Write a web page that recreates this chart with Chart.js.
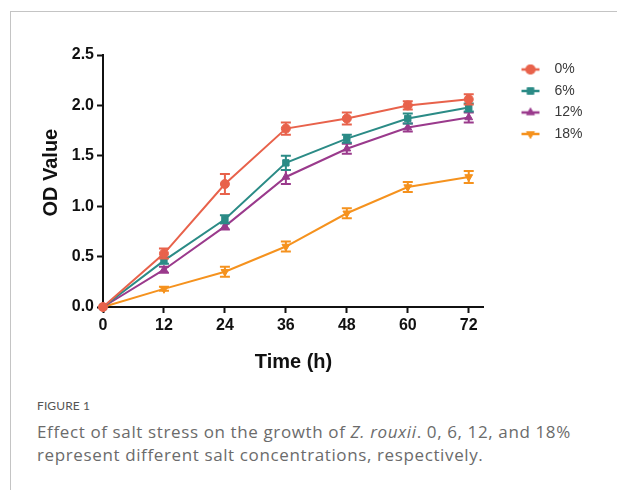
<!DOCTYPE html>
<html>
<head>
<meta charset="utf-8">
<script src="https://cdn.jsdelivr.net/npm/chart.js@4"></script>
<style>
  html, body { margin: 0; padding: 0; background: #fff; }
  body { width: 617px; height: 490px; position: relative; overflow: hidden; }
  #frame { position: absolute; left: 10px; top: 11px; width: 640px; height: 520px;
           border-left: 1px solid #c4c4c4; border-top: 1px solid #c4c4c4; }
  #c { position: absolute; left: 0; top: 0; }
  #figlabel { position: absolute; left: 37px; top: 398px; font-family: Lato, "Open Sans", sans-serif;
              font-size: 12px; color: #555; letter-spacing: 0.1px; }
  #caption { position: absolute; left: 37px; top: 420px; width: 562px; font-family: "Open Sans", Lato, sans-serif;
             font-size: 17px; line-height: 23px; color: #6b6b6b; letter-spacing: 0.62px; }
</style>
</head>
<body>
<div id="frame"></div>
<canvas id="c" width="617" height="390"></canvas>
<div id="figlabel">FIGURE 1</div>
<div id="caption">Effect of salt stress on the growth of <i>Z. rouxii</i>. 0, 6, 12, and 18% represent different salt concentrations, respectively.</div>
<script>
// ---- data ----
const timeH = [0, 12, 24, 36, 48, 60, 72];
const xTicks = [0, 12, 24, 36, 48, 60, 72];
const yTicks = [0, 0.5, 1.0, 1.5, 2.0, 2.5];
const seriesNames = ['0%', '6%', '12%', '18%'];
const od0  = [0, 0.53, 1.22, 1.77, 1.87, 2.00, 2.06];
const err0 = [0, 0.05, 0.10, 0.06, 0.06, 0.04, 0.05];
const od6  = [0, 0.46, 0.87, 1.43, 1.67, 1.87, 1.98];
const err6 = [0, 0.03, 0.04, 0.07, 0.04, 0.05, 0.04];
const od12  = [0, 0.37, 0.80, 1.29, 1.57, 1.78, 1.88];
const err12 = [0, 0.03, 0.03, 0.07, 0.05, 0.04, 0.05];
const od18  = [0, 0.18, 0.35, 0.60, 0.93, 1.19, 1.29];
const err18 = [0, 0.02, 0.05, 0.05, 0.05, 0.05, 0.06];

const colors = ['#E8624B', '#2B8B86', '#9A3A8C', '#F5921E'];
const shapes = ['circle', 'rect', 'triangle', 'triangle'];
const rotations = [0, 0, 0, 180];
const values = [od0, od6, od12, od18];
const errors = [err0, err6, err12, err18];

const FONT = '"Liberation Sans", Arial, sans-serif';

// legend icons: line with marker, with transparent space on the left
function legendIcon(color, shape, rot) {
  const cv = document.createElement('canvas');
  cv.width = 56; cv.height = 14;
  const g = cv.getContext('2d');
  g.strokeStyle = color; g.fillStyle = color; g.lineWidth = 2.5;
  g.beginPath(); g.moveTo(30, 7); g.lineTo(48, 7); g.stroke();
  Chart.helpers.drawPoint(g, {pointStyle: shape, rotation: rot, radius: 5, borderWidth: 0}, 39, 7);
  g.fill();
  return cv;
}

const datasets = values.map((vals, i) => ({
  label: seriesNames[i],
  data: timeH.map((t, j) => ({x: t, y: vals[j]})),
  borderColor: colors[i],
  backgroundColor: colors[i],
  borderWidth: 2,
  pointStyle: shapes[i],
  pointRotation: rotations[i],
  pointRadius: 4.5,
  pointBorderWidth: 1,
  tension: 0,
  clip: false,
  errs: errors[i]
}));

const errorBars = {
  id: 'errorBars',
  afterDatasetDraw(chart, args) {
    const i = args.index;
    const ds = chart.data.datasets[i];
    const meta = chart.getDatasetMeta(i);
    const ys = chart.scales.y;
    const ctx = chart.ctx;
    ctx.save();
    ctx.strokeStyle = ds.borderColor;
    ctx.lineWidth = 2;
    meta.data.forEach((pt, j) => {
      const e = ds.errs[j];
      if (!e) return;
      const v = ds.data[j].y;
      const yTop = ys.getPixelForValue(v + e);
      const yBot = ys.getPixelForValue(v - e);
      const x = pt.x;
      ctx.beginPath();
      ctx.moveTo(x, yTop); ctx.lineTo(x, yBot);
      ctx.moveTo(x - 5, yTop); ctx.lineTo(x + 5, yTop);
      ctx.moveTo(x - 5, yBot); ctx.lineTo(x + 5, yBot);
      ctx.stroke();
    });
    ctx.restore();
  }
};

new Chart(document.getElementById('c'), {
  type: 'line',
  data: { datasets },
  plugins: [errorBars],
  options: {
    responsive: false,
    devicePixelRatio: 1,
    animation: false,
    layout: { padding: { left: 30, top: 55, right: 24.5, bottom: 12 } },
    plugins: {
      tooltip: { enabled: false },
      legend: {
        position: 'right',
        align: 'start',
        labels: {
          usePointStyle: true,
          pointStyleWidth: 56,
          padding: 7.5,
          color: '#3a3a3a',
          font: { family: FONT, size: 14 },
          generateLabels(chart) {
            return chart.data.datasets.map((ds, i) => ({
              text: ds.label,
              fillStyle: ds.backgroundColor,
              strokeStyle: ds.borderColor,
              lineWidth: 0,
              pointStyle: legendIcon(colors[i], shapes[i], rotations[i]),
              rotation: 0,
              hidden: false,
              datasetIndex: i,
              fontColor: '#3a3a3a'
            }));
          }
        }
      }
    },
    scales: {
      x: {
        type: 'linear',
        min: 0, max: 75,
        afterBuildTicks(s) { s.ticks = xTicks.map(v => ({value: v})); },
        afterFit(s) { s.height = 71; },
        border: { display: true, color: '#111', width: 2 },
        grid: { drawOnChartArea: false, drawTicks: true, tickLength: 6, tickWidth: 2, tickColor: '#111' },
        ticks: { color: '#111', padding: 3, maxRotation: 0, font: { family: FONT, size: 16, weight: 'bold' } },
        title: { display: true, text: 'Time (h)', color: '#111', padding: { top: 0, bottom: 4 },
                 font: { family: FONT, size: 20, weight: 'bold' } }
      },
      y: {
        min: 0, max: 2.5,
        afterBuildTicks(s) { s.ticks = yTicks.map(v => ({value: v})); },
        afterFit(s) { s.width = 73; },
        border: { display: true, color: '#111', width: 2 },
        grid: { drawOnChartArea: false, drawTicks: true, tickLength: 6, tickWidth: 2, tickColor: '#111' },
        ticks: { color: '#111', padding: 3, font: { family: FONT, size: 16, weight: 'bold' },
                 callback: v => Number(v).toFixed(1) },
        title: { display: true, text: '   OD Value', color: '#111', padding: { top: 9.5, bottom: 0 },
                 font: { family: FONT, size: 20, weight: 'bold' } }
      }
    }
  }
});
</script>
</body>
</html>
